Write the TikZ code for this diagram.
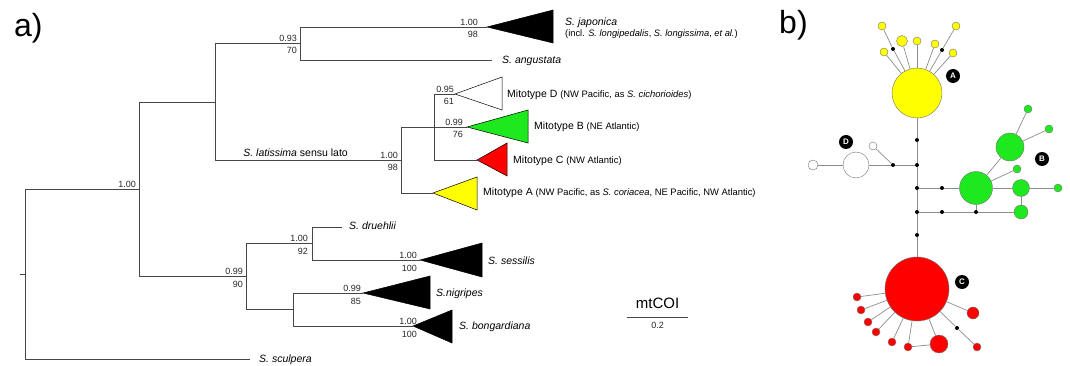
\documentclass[tikz,border=0pt]{standalone}
\usepackage{fontspec}
\setmainfont{Liberation Sans}
\definecolor{yel}{RGB}{255,255,0}
\definecolor{grn}{RGB}{30,232,30}
\definecolor{rd}{RGB}{255,0,0}
\definecolor{brc}{RGB}{70,70,70}
\definecolor{netc}{RGB}{140,140,140}
\newcommand{\parsz}{\fontsize{9.4}{11}\selectfont}
\newcommand{\suplab}[5]{%
  \node[sup, anchor=base east] (#1t) at (#2,#3-1.5) {#4};
  \node[sup, anchor=base east] (#1b) at (#2,#3+11) {#5};}
\begin{document}
\begin{tikzpicture}[x=1pt,y=-1pt,
  br/.style={draw=brc, line width=0.8pt},
  clade/.style={draw=black, line width=0.5pt},
  sup/.style={font=\fontsize{9}{10}\selectfont, inner sep=0pt, text=black!85},
  tax/.style={font=\fontsize{10.5}{12}\selectfont\itshape, anchor=base west, inner sep=0pt},
  mito/.style={font=\fontsize{10.5}{12}\selectfont, anchor=base west, inner sep=0pt},
  panel/.style={font=\fontsize{32}{34}\selectfont, anchor=base west, inner sep=0pt},
  net/.style={draw=netc, line width=0.7pt},
  hap/.style={circle, draw=black!55, line width=0.4pt, inner sep=0pt},
  dot/.style={circle, fill=black, inner sep=0pt, minimum size=4pt},
  badge/.style={circle, fill=black, inner sep=0pt, minimum size=14pt, text=white, font=\fontsize{8}{8}\selectfont\bfseries}
]
\useasboundingbox (0,0) rectangle (1070,366);

% ---------- panel a ----------
\node[panel] (pa) at (14,37) {a)};

% tree node coordinates
\coordinate (root) at (25,274);
\coordinate (rtick) at (20,274);
\coordinate (n1) at (139,189);
\coordinate (n2) at (215,102);
\coordinate (n3) at (300,43);
\coordinate (jap) at (487,27);
\coordinate (ang) at (492,60);
\coordinate (n4) at (401,160);
\coordinate (n5) at (434,127);
\coordinate (mD) at (455,94);
\coordinate (mB) at (467,127);
\coordinate (mC) at (477,160);
\coordinate (mA) at (433,193);
\coordinate (n6) at (246,276);
\coordinate (n7) at (312,243);
\coordinate (dru) at (342,227);
\coordinate (ses) at (420,260);
\coordinate (n8) at (293,309);
\coordinate (nig) at (363,293);
\coordinate (bon) at (413,326);
\coordinate (scu) at (250,359);

% branches
\draw[br] (rtick) -- (root);
\draw[br] (root) |- (n1);
\draw[br] (root) |- (scu);
\draw[br] (n1) |- (n2);
\draw[br] (n1) |- (n6);
\draw[br] (n2) |- (n3);
\draw[br] (n2) |- (n4);
\draw[br] (n3) |- (jap);
\draw[br] (n3) |- (ang);
\draw[br] (n4) |- (n5);
\draw[br] (n4) |- (mA);
\draw[br] (n5) |- (mD);
\draw[br] (n5) -- (mB);
\draw[br] (n5) |- (mC);
\draw[br] (n6) |- (n7);
\draw[br] (n6) |- (n8);
\draw[br] (n7) |- (dru);
\draw[br] (n7) |- (ses);
\draw[br] (n8) |- (nig);
\draw[br] (n8) |- (bon);

% collapsed clades
\draw[clade, fill=black] (jap) -- (553,10) -- (553,43) -- cycle;
\draw[clade, fill=white] (mD) -- (502,77) -- (502,110) -- cycle;
\draw[clade, fill=grn] (mB) -- (528,110) -- (528,143) -- cycle;
\draw[clade, fill=rd] (mC) -- (507,143) -- (507,176) -- cycle;
\draw[clade, fill=yel] (mA) -- (477,177) -- (477,210) -- cycle;
\draw[clade, fill=black] (ses) -- (482,243) -- (482,277) -- cycle;
\draw[clade, fill=black] (nig) -- (430,276) -- (430,309) -- cycle;
\draw[clade, fill=black] (bon) -- (452,310) -- (452,343) -- cycle;

% support values
\node[sup, anchor=base east] (s1t) at (136,187.5) {1.00};
\suplab{s3}{297}{43}{0.93}{70}
\suplab{sj}{478}{27}{1.00}{98}
\suplab{s4}{398}{160}{1.00}{98}
\suplab{sD}{454}{94}{0.95}{61}
\suplab{sB}{463}{127}{0.99}{76}
\suplab{s6}{243}{276}{0.99}{90}
\suplab{s7}{308}{243}{1.00}{92}
\suplab{ss}{417}{260}{1.00}{100}
\suplab{sn}{361}{293}{0.99}{85}
\suplab{sb}{417}{326}{1.00}{100}

% taxon labels
\node[tax] (tjap) at (565,26) {S. japonica};
\node[tax, font=\fontsize{9.3}{11}\selectfont] (tincl) at (565,36.5) {(incl. \textit{S. longipedalis}, \textit{S. longissima}, \textit{et al.})};
\node[tax] (tang) at (502,64) {S. angustata};
\node[tax, anchor=base east, font=\fontsize{10.5}{12}\selectfont] (tlat) at (348,157) {\textit{S. latissima} sensu lato};
\node[mito] (tD) at (507,97.5) {Mitotype D {\parsz(NW Pacific, as \textit{S. cichorioides})}};
\node[mito] (tB) at (534,130) {Mitotype B {\parsz(NE Atlantic)}};
\node[mito] (tC) at (513,163.5) {Mitotype C {\parsz(NW Atlantic)}};
\node[mito] (tA) at (483,196) {Mitotype A {\parsz(NW Pacific, as \textit{S. coriacea}, NE Pacific, NW Atlantic)}};
\node[tax] (tdru) at (349,229) {S. druehlii};
\node[tax] (tses) at (488,264) {S. sessilis};
\node[tax] (tnig) at (436,296) {S.nigripes};
\node[tax] (tbon) at (459,329) {S. bongardiana};
\node[tax] (tscu) at (259,362) {S. sculpera};

% scale bar
\node[font=\fontsize{15}{16}\selectfont, anchor=base, inner sep=0pt] (mt) at (657.5,308) {mtCOI};
\coordinate (sbl) at (627,317);
\coordinate (sbr) at (688,317);
\draw[draw=brc, line width=0.8pt] (sbl) -- (sbr);
\node[sup, anchor=base] (sbv) at (657.5,328.5) {0.2};

% ---------- panel b ----------
\node[panel] (pb) at (779,34) {b)};

% yellow cluster
\node[hap, fill=yel, minimum size=50pt] (A) at (917,93) {};
\node[hap, fill=yel, minimum size=8pt] (y1) at (882,26) {};
\node[hap, fill=yel, minimum size=8pt] (y2) at (884,52) {};
\node[hap, fill=yel, minimum size=11pt] (y3) at (902,41) {};
\node[hap, fill=yel, minimum size=8pt] (y4) at (917,41) {};
\node[hap, fill=yel, minimum size=8pt] (y5) at (935,44) {};
\node[hap, fill=yel, minimum size=8pt] (y6) at (953,53) {};
\node[hap, fill=yel, minimum size=8pt] (y7) at (956,26) {};
\node[dot] (yd1) at (893,49) {};
\node[dot] (yd2) at (942,50) {};

% spine dots
\node[dot] (p1) at (917,140) {};
\node[dot] (p2) at (917,165) {};
\node[dot] (p3) at (917,188) {};
\node[dot] (p4) at (917,212) {};
\node[dot] (p5) at (917,235) {};

% white cluster
\node[dot] (dd) at (893,165) {};
\node[hap, fill=white, minimum size=8pt] (w1) at (873,146) {};
\node[hap, fill=white, minimum size=26pt] (Dh) at (856,165) {};
\node[hap, fill=white, minimum size=10pt] (w2) at (813,165) {};

% green cluster
\node[dot] (gd1) at (942,188) {};
\node[hap, fill=grn, minimum size=33pt] (G1) at (976,188) {};
\node[hap, fill=grn, minimum size=17pt] (G2) at (1021,188) {};
\node[hap, fill=grn, minimum size=8pt] (G3) at (1058,188) {};
\node[hap, fill=grn, minimum size=28pt] (G4) at (1010,147) {};
\node[hap, fill=grn, minimum size=8pt] (G5) at (1028,109) {};
\node[hap, fill=grn, minimum size=8pt] (G6) at (1049,129) {};
\node[hap, fill=grn, minimum size=8pt] (G7) at (1017,169) {};
\node[dot] (gd2) at (942,212) {};
\node[dot] (gd3) at (976,212) {};
\node[hap, fill=grn, minimum size=14pt] (G8) at (1021,212) {};

% red cluster
\node[hap, fill=rd, minimum size=64pt] (C) at (917,289) {};
\node[hap, fill=rd, minimum size=8pt] (r1) at (857,297) {};
\node[hap, fill=rd, minimum size=8pt] (r2) at (861,310) {};
\node[hap, fill=rd, minimum size=8pt] (r3) at (868,322) {};
\node[hap, fill=rd, minimum size=8pt] (r4) at (876,332) {};
\node[hap, fill=rd, minimum size=8pt] (r5) at (892,342) {};
\node[hap, fill=rd, minimum size=8pt] (r6) at (908,347) {};
\node[hap, fill=rd, minimum size=18pt] (r7) at (939,344) {};
\node[hap, fill=rd, minimum size=12pt] (r8) at (973,313) {};
\node[dot] (rd1) at (957,328) {};
\node[hap, fill=rd, minimum size=8pt] (r9) at (977,347) {};

% network edges
\draw[net] (A) -- (yd1) -- (y1);
\draw[net] (A) -- (y2);
\draw[net] (A) -- (y3);
\draw[net] (A) -- (y4);
\draw[net] (A) -- (y5);
\draw[net] (A) -- (y6);
\draw[net] (A) -- (yd2) -- (y7);
\draw[net] (A) -- (p1) -- (p2) -- (p3) -- (p4) -- (p5) -- (C);
\draw[net] (p2) -- (dd) -- (Dh) -- (w2);
\draw[net] (dd) -- (w1);
\draw[net] (p3) -- (gd1) -- (G1) -- (G2) -- (G3);
\draw[net] (G1) -- (G4) -- (G5);
\draw[net] (G4) -- (G6);
\draw[net] (G1) -- (G7);
\draw[net] (p4) -- (gd2) -- (gd3) -- (G8);
\draw[net] (gd3) -- (G1);
\draw[net] (G8) -- (G2);
\draw[net] (C) -- (r1);
\draw[net] (C) -- (r2);
\draw[net] (C) -- (r3);
\draw[net] (C) -- (r4);
\draw[net] (C) -- (r5);
\draw[net] (C) -- (r6);
\draw[net] (C) -- (r7);
\draw[net] (r6) -- (r7);
\draw[net] (C) -- (r8);
\draw[net] (C) -- (rd1) -- (r9);

% badges
\node[badge] (bA) at (953,76) {A};
\node[badge] (bB) at (1042,159) {B};
\node[badge] (bC) at (962,282) {C};
\node[badge] (bD) at (846,142) {D};
\end{tikzpicture}
\end{document}
